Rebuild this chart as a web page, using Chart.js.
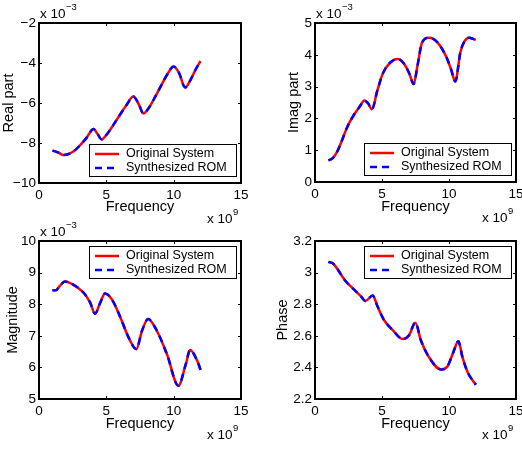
<!DOCTYPE html>
<html>
<head>
<meta charset="utf-8">
<script src="https://cdn.jsdelivr.net/npm/chart.js@4.4.0/dist/chart.umd.min.js"></script>
<style>
  html, body { margin: 0; padding: 0; background: #fff; }
  #wrap { position: relative; width: 522px; height: 449px; overflow: hidden; }
  canvas { position: absolute; }
</style>
</head>
<body>
<div id="wrap">
  <canvas id="realChart" width="261" height="232" style="left:0;top:0"></canvas>
  <canvas id="imagChart" width="280" height="232" style="left:261px;top:0"></canvas>
  <canvas id="magChart" width="261" height="244" style="left:0;top:205px"></canvas>
  <canvas id="phaseChart" width="280" height="244" style="left:261px;top:205px"></canvas>
</div>
<script>
// frequency in units of 1e9, real/imag/magnitude in units of 1e-3
const freqReal = [1.0, 1.2, 1.5, 1.8, 2.2, 2.6, 3.0, 3.5, 4.05, 4.35, 4.65, 5.0, 5.5, 6.0, 6.5, 7.0, 7.4, 7.75, 8.1, 8.5, 9.0, 9.5, 10.0, 10.4, 10.85, 11.3, 11.65, 12.0];
const realPart = [-8.38, -8.42, -8.5, -8.6, -8.55, -8.4, -8.15, -7.77, -7.3, -7.55, -7.82, -7.6, -7.12, -6.6, -6.1, -5.68, -6.05, -6.52, -6.3, -5.85, -5.22, -4.6, -4.18, -4.5, -5.22, -4.78, -4.3, -3.9];

const freqImag = [1.0, 1.3, 1.65, 1.95, 2.45, 2.95, 3.35, 3.68, 3.95, 4.25, 4.65, 5.05, 5.6, 6.17, 6.65, 7.05, 7.36, 7.65, 8.0, 8.53, 9.12, 9.75, 10.15, 10.47, 10.85, 11.15, 11.51, 11.8, 12.0];
const imagPart = [0.68, 0.74, 0.95, 1.24, 1.77, 2.14, 2.38, 2.56, 2.48, 2.29, 2.87, 3.4, 3.75, 3.87, 3.72, 3.4, 3.08, 3.66, 4.4, 4.54, 4.4, 3.98, 3.55, 3.16, 4.08, 4.42, 4.54, 4.5, 4.46];

const freqMag = [1.0, 1.25, 1.55, 1.92, 2.5, 3.3, 3.8, 4.16, 4.55, 4.9, 5.4, 6.0, 6.65, 7.23, 7.65, 8.1, 8.75, 9.5, 10.35, 10.9, 11.22, 11.75, 12.0];
const magnitude = [8.44, 8.44, 8.58, 8.72, 8.63, 8.37, 8.05, 7.7, 8.05, 8.34, 8.16, 7.63, 6.95, 6.58, 7.16, 7.53, 7.16, 6.42, 5.42, 6.1, 6.55, 6.21, 5.92];

const freqPhase = [1.0, 1.3, 1.7, 2.2, 2.82, 3.43, 3.76, 4.3, 4.67, 5.15, 5.8, 6.54, 7.02, 7.49, 7.9, 8.5, 9.4, 9.88, 10.33, 10.7, 11.0, 11.39, 12.0];
const phase = [3.068, 3.06, 3.02, 2.955, 2.9, 2.85, 2.82, 2.855, 2.785, 2.70, 2.636, 2.58, 2.604, 2.683, 2.572, 2.466, 2.387, 2.406, 2.498, 2.566, 2.466, 2.37, 2.29];

const seriesNames = ["Original System", "Synthesized ROM"];
const freqTicks = [0, 15, 5];   // min, max, step

const FONT = "'Liberation Sans', Arial, Helvetica, sans-serif";

function fmt(v) {
    return String(Number(v.toFixed(2))).replace("-", "\u2212");
}

// box, inward ticks, exponent labels and a boxed legend, drawn the matlab way
const frame = {
    id: "frame",
    afterDraw(chart, args, o) {
        const ctx = chart.ctx;
        const a = chart.chartArea;
        const xs = chart.scales.x, ys = chart.scales.y;
        ctx.save();
        ctx.strokeStyle = "#000";
        ctx.lineWidth = 1;
        ctx.beginPath();
        xs.ticks.forEach(t => {
            const px = Math.round(xs.getPixelForValue(t.value)) + 0.5;
            ctx.moveTo(px, a.bottom); ctx.lineTo(px, a.bottom - 3);
            ctx.moveTo(px, a.top); ctx.lineTo(px, a.top + 3);
        });
        ys.ticks.forEach(t => {
            const py = Math.round(ys.getPixelForValue(t.value)) + 0.5;
            ctx.moveTo(a.left, py); ctx.lineTo(a.left + 3, py);
            ctx.moveTo(a.right, py); ctx.lineTo(a.right - 3, py);
        });
        ctx.stroke();
        ctx.lineWidth = 2;
        ctx.strokeRect(a.left, a.top, a.right - a.left, a.bottom - a.top);

        ctx.fillStyle = "#000";
        ctx.textBaseline = "alphabetic";
        ctx.textAlign = "left";
        // x 10^9 under the right end of the x axis
        ctx.font = "13.5px " + FONT;
        let bx = a.right - 34, by = a.bottom + 40;
        ctx.fillText("x 10", bx, by);
        let w = ctx.measureText("x 10").width;
        ctx.font = "9.5px " + FONT;
        ctx.fillText("9", bx + w + 0.5, by - 8);
        // x 10^-3 above the y axis
        if (o.yExp) {
            ctx.font = "13.5px " + FONT;
            bx = a.left + 1; by = a.top - 5;
            ctx.fillText("x 10", bx, by);
            w = ctx.measureText("x 10").width;
            ctx.font = "9.5px " + FONT;
            ctx.fillText(o.yExp, bx + w + 0.5, by - 8);
        }

        // legend
        const lw = 147, lh = 32;
        const lx = a.right - 5 - lw;
        const ly = o.legendTop ? a.top + 5 : a.bottom - 7 - lh;
        ctx.fillStyle = "#fff";
        ctx.fillRect(lx, ly, lw, lh);
        ctx.lineWidth = 1;
        ctx.strokeStyle = "#000";
        ctx.strokeRect(lx + 0.5, ly + 0.5, lw, lh);
        chart.data.datasets.forEach((ds, i) => {
            const cy = ly + 10 + i * 14;
            ctx.strokeStyle = ds.borderColor;
            ctx.lineWidth = 2.5;
            ctx.setLineDash(ds.borderDash || []);
            ctx.beginPath();
            ctx.moveTo(lx + 6, cy); ctx.lineTo(lx + 30, cy);
            ctx.stroke();
            ctx.setLineDash([]);
            ctx.fillStyle = "#000";
            ctx.font = "12.5px " + FONT;
            ctx.textBaseline = "middle";
            ctx.fillText(ds.label, lx + 37, cy);
        });
        ctx.restore();
    }
};

function panel(id, freq, values, cfg) {
    const canvas = document.getElementById(id);
    const pts = freq.map((f, i) => ({ x: f, y: values[i] }));
    const area = cfg.area; // left, top, right, bottom inside the canvas
    return new Chart(canvas.getContext("2d"), {
        type: "line",
        data: {
            datasets: [
                // higher order is painted first, so the dashed ROM curve lies on top
                { label: seriesNames[0], data: pts, borderColor: "#ff0000", borderWidth: 2.5, order: 2 },
                { label: seriesNames[1], data: pts, borderColor: "#0000ff", borderWidth: 2.5, borderDash: [7, 5], order: 1 }
            ]
        },
        options: {
            responsive: false,
            animation: false,
            events: [],
            layout: { padding: { left: 0, top: area[1], right: canvas.width - area[2], bottom: 0 } },
            elements: {
                point: { radius: 0 },
                line: { cubicInterpolationMode: "monotone", fill: false }
            },
            plugins: {
                legend: { display: false },
                tooltip: { enabled: false },
                frame: { yExp: cfg.yExp, legendTop: cfg.legendTop }
            },
            scales: {
                x: {
                    type: "linear",
                    min: freqTicks[0], max: freqTicks[1],
                    ticks: { stepSize: freqTicks[2], color: "#000", padding: 4, maxRotation: 0,
                             font: { family: FONT, size: 13.5 }, callback: fmt },
                    grid: { display: false, drawTicks: false },
                    border: { display: false },
                    title: { display: true, text: "Frequency", color: "#000",
                             font: { family: FONT, size: 14.5 }, padding: { top: 0, bottom: 16 } },
                    afterFit: s => { s.height = canvas.height - area[3]; }
                },
                y: {
                    min: cfg.yRange[0], max: cfg.yRange[1],
                    ticks: { stepSize: cfg.yRange[2], color: "#000", padding: 3,
                             font: { family: FONT, size: 13.5 }, callback: fmt },
                    grid: { display: false, drawTicks: false },
                    border: { display: false },
                    title: { display: true, text: cfg.yTitle, color: "#000",
                             font: { family: FONT, size: 14.5 }, padding: { top: cfg.yTitlePad, bottom: 0 } },
                    afterFit: s => { s.width = area[0]; }
                }
            }
        },
        plugins: [frame]
    });
}

panel("realChart", freqReal, realPart, {
    area: [39, 23, 241, 183], yRange: [-10, -2, 2], yTitle: "Real part", yTitlePad: 0, yExp: "\u22123"
});
panel("imagChart", freqImag, imagPart, {
    area: [54, 23, 255, 182], yRange: [0, 5, 1], yTitle: "Imag part", yTitlePad: 24, yExp: "\u22123"
});
panel("magChart", freqMag, magnitude, {
    area: [39, 36, 241, 194], yRange: [5, 10, 1], yTitle: "Magnitude", yTitlePad: 4, yExp: "\u22123", legendTop: true
});
panel("phaseChart", freqPhase, phase, {
    area: [54, 36, 255, 194], yRange: [2.2, 3.2, 0.2], yTitle: "Phase", yTitlePad: 13, legendTop: true
});
</script>
</body>
</html>
